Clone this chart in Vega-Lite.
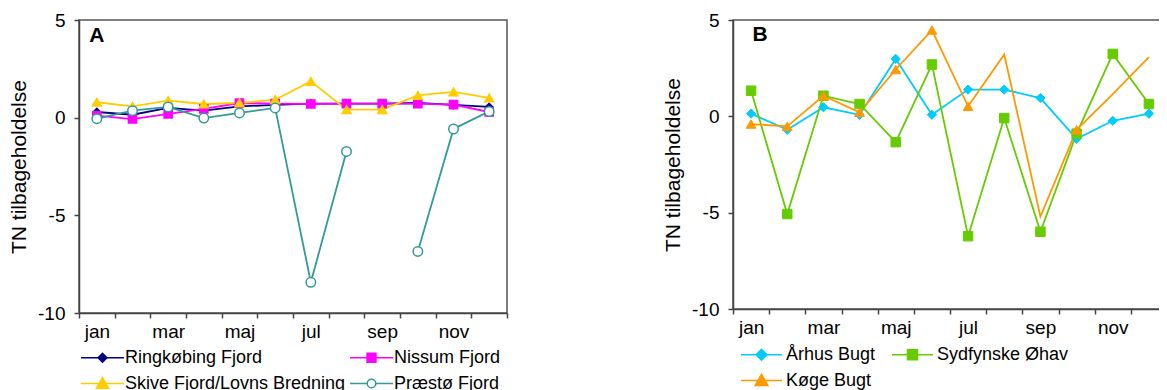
{
  "$schema": "https://vega.github.io/schema/vega-lite/v6.json",
  "padding": {"left": 7, "top": 10, "right": -10, "bottom": 0},
  "background": "white",
  "config": {
    "font": "Liberation Sans",
    "view": {"stroke": "#555", "strokeWidth": 1.5},
    "axis": {"domainColor": "#444", "domainWidth": 1.5, "tickColor": "#444", "tickWidth": 1.5, "tickSize": 5, "labelFontSize": 19, "labelColor": "#000", "titleFontSize": 21, "titleFontWeight": "normal", "titleColor": "#000", "grid": false, "labelFont": "Liberation Sans", "titleFont": "Liberation Sans"},
    "legend": {"labelFont": "Liberation Sans", "labelFontSize": 18, "labelColor": "#000", "padding": 0, "labelLimit": 400}
  },
  "datasets": {
    "a": [
      {"month": "jan", "site": "Ringkøbing Fjord", "value": 0.29},
      {"month": "feb", "site": "Ringkøbing Fjord", "value": 0.15},
      {"month": "mar", "site": "Ringkøbing Fjord", "value": 0.5},
      {"month": "apr", "site": "Ringkøbing Fjord", "value": 0.36},
      {"month": "maj", "site": "Ringkøbing Fjord", "value": 0.58},
      {"month": "jun", "site": "Ringkøbing Fjord", "value": 0.65},
      {"month": "jul", "site": "Ringkøbing Fjord", "value": 0.72},
      {"month": "aug", "site": "Ringkøbing Fjord", "value": 0.72},
      {"month": "sep", "site": "Ringkøbing Fjord", "value": 0.72},
      {"month": "okt", "site": "Ringkøbing Fjord", "value": 0.75},
      {"month": "nov", "site": "Ringkøbing Fjord", "value": 0.65},
      {"month": "dec", "site": "Ringkøbing Fjord", "value": 0.55},
      {"month": "jan", "site": "Nissum Fjord", "value": 0.1},
      {"month": "feb", "site": "Nissum Fjord", "value": -0.07},
      {"month": "mar", "site": "Nissum Fjord", "value": 0.19},
      {"month": "apr", "site": "Nissum Fjord", "value": 0.45},
      {"month": "maj", "site": "Nissum Fjord", "value": 0.75},
      {"month": "jun", "site": "Nissum Fjord", "value": 0.72},
      {"month": "jul", "site": "Nissum Fjord", "value": 0.7},
      {"month": "aug", "site": "Nissum Fjord", "value": 0.72},
      {"month": "sep", "site": "Nissum Fjord", "value": 0.72},
      {"month": "okt", "site": "Nissum Fjord", "value": 0.72},
      {"month": "nov", "site": "Nissum Fjord", "value": 0.67},
      {"month": "dec", "site": "Nissum Fjord", "value": 0.29},
      {"month": "jan", "site": "Skive Fjord/Lovns Bredning", "value": 0.79},
      {"month": "feb", "site": "Skive Fjord/Lovns Bredning", "value": 0.58},
      {"month": "mar", "site": "Skive Fjord/Lovns Bredning", "value": 0.87},
      {"month": "apr", "site": "Skive Fjord/Lovns Bredning", "value": 0.7},
      {"month": "maj", "site": "Skive Fjord/Lovns Bredning", "value": 0.75},
      {"month": "jun", "site": "Skive Fjord/Lovns Bredning", "value": 0.92},
      {"month": "jul", "site": "Skive Fjord/Lovns Bredning", "value": 1.86},
      {"month": "aug", "site": "Skive Fjord/Lovns Bredning", "value": 0.41},
      {"month": "sep", "site": "Skive Fjord/Lovns Bredning", "value": 0.41},
      {"month": "okt", "site": "Skive Fjord/Lovns Bredning", "value": 1.14},
      {"month": "nov", "site": "Skive Fjord/Lovns Bredning", "value": 1.32},
      {"month": "dec", "site": "Skive Fjord/Lovns Bredning", "value": 1.01},
      {"month": "jan", "site": "Præstø Fjord", "value": -0.05},
      {"month": "feb", "site": "Præstø Fjord", "value": 0.36},
      {"month": "mar", "site": "Præstø Fjord", "value": 0.55},
      {"month": "apr", "site": "Præstø Fjord", "value": -0.02},
      {"month": "maj", "site": "Præstø Fjord", "value": 0.24},
      {"month": "jun", "site": "Præstø Fjord", "value": 0.5},
      {"month": "jul", "site": "Præstø Fjord", "value": -8.43},
      {"month": "aug", "site": "Præstø Fjord", "value": -1.73},
      {"month": "sep", "site": "Præstø Fjord", "value": null},
      {"month": "okt", "site": "Præstø Fjord", "value": -6.85},
      {"month": "nov", "site": "Præstø Fjord", "value": -0.58},
      {"month": "dec", "site": "Præstø Fjord", "value": 0.32}
    ],
    "b": [
      {"month": "jan", "site": "Århus Bugt", "value": 0.14},
      {"month": "feb", "site": "Århus Bugt", "value": -0.7},
      {"month": "mar", "site": "Århus Bugt", "value": 0.47},
      {"month": "apr", "site": "Århus Bugt", "value": 0.08},
      {"month": "maj", "site": "Århus Bugt", "value": 2.98},
      {"month": "jun", "site": "Århus Bugt", "value": 0.08},
      {"month": "jul", "site": "Århus Bugt", "value": 1.39},
      {"month": "aug", "site": "Århus Bugt", "value": 1.39},
      {"month": "sep", "site": "Århus Bugt", "value": 0.95},
      {"month": "okt", "site": "Århus Bugt", "value": -1.17},
      {"month": "nov", "site": "Århus Bugt", "value": -0.23},
      {"month": "dec", "site": "Århus Bugt", "value": 0.14},
      {"month": "jan", "site": "Sydfynske Øhav", "value": 1.33},
      {"month": "feb", "site": "Sydfynske Øhav", "value": -5.07},
      {"month": "mar", "site": "Sydfynske Øhav", "value": 1.07},
      {"month": "apr", "site": "Sydfynske Øhav", "value": 0.64},
      {"month": "maj", "site": "Sydfynske Øhav", "value": -1.34},
      {"month": "jun", "site": "Sydfynske Øhav", "value": 2.69},
      {"month": "jul", "site": "Sydfynske Øhav", "value": -6.22},
      {"month": "aug", "site": "Sydfynske Øhav", "value": -0.09},
      {"month": "sep", "site": "Sydfynske Øhav", "value": -5.99},
      {"month": "okt", "site": "Sydfynske Øhav", "value": -0.9},
      {"month": "nov", "site": "Sydfynske Øhav", "value": 3.24},
      {"month": "dec", "site": "Sydfynske Øhav", "value": 0.64},
      {"month": "jan", "site": "Køge Bugt", "value": -0.4},
      {"month": "feb", "site": "Køge Bugt", "value": -0.52},
      {"month": "mar", "site": "Køge Bugt", "value": 1.07},
      {"month": "apr", "site": "Køge Bugt", "value": 0.21},
      {"month": "maj", "site": "Køge Bugt", "value": 2.43},
      {"month": "jun", "site": "Køge Bugt", "value": 4.48},
      {"month": "jul", "site": "Køge Bugt", "value": 0.52},
      {"month": "aug", "site": "Køge Bugt", "value": 3.21},
      {"month": "sep", "site": "Køge Bugt", "value": -5.2},
      {"month": "okt", "site": "Køge Bugt", "value": -0.7},
      {"month": "nov", "site": "Køge Bugt", "value": 1.15},
      {"month": "dec", "site": "Køge Bugt", "value": 3.07}
    ]
  },
  "spacing": 152,
  "resolve": {"scale": {"color": "independent", "stroke": "independent", "fill": "independent", "shape": "independent", "size": "independent", "x": "independent", "y": "independent"}, "legend": {"color": "independent", "shape": "independent", "fill": "independent", "stroke": "independent"}},
  "hconcat": [
    {
      "width": 428,
      "height": 293,
      "data": {"name": "a"},
      "resolve": {"scale": {"shape": "independent", "fill": "independent", "stroke": "independent", "size": "independent"}},
      "encoding": {
        "x": {"field": "month", "type": "ordinal", "scale": {"type": "band", "domain": ["jan","feb","mar","apr","maj","jun","jul","aug","sep","okt","nov","dec"], "paddingInner": 0, "paddingOuter": 0}, "axis": {"title": null, "tickBand": "extent", "labelAngle": 0, "labelPadding": 4, "labelExpr": "indexof(['jan','mar','maj','jul','sep','nov'], datum.value) >= 0 ? datum.value : ''"}},
        "y": {"field": "value", "type": "quantitative", "scale": {"domain": [-10, 5], "nice": false}, "axis": {"values": [-10, -5, 0, 5], "labelExpr": "'' + datum.value", "title": "TN tilbageholdelse", "labelPadding": 9, "titlePadding": 8}}
      },
      "layer": [
        {
          "mark": {"type": "line", "strokeWidth": 1.8, "invalid": "break-paths-filter-domains"},
          "encoding": {
            "color": {"field": "site", "type": "nominal", "legend": null,
              "scale": {"domain": ["Ringkøbing Fjord", "Nissum Fjord", "Skive Fjord/Lovns Bredning", "Præstø Fjord"], "range": ["#000080", "#ff00ff", "#ffcc00", "#339999"]}}
          }
        },
        {
          "mark": {"type": "point", "filled": true, "opacity": 1, "strokeWidth": 1.5},
          "encoding": {
            "shape": {"field": "site", "type": "nominal", "scale": {"domain": ["Ringkøbing Fjord", "Nissum Fjord", "Skive Fjord/Lovns Bredning", "Præstø Fjord"], "range": ["diamond", "square", "triangle-up", "circle"]}, "legend": null},
            "stroke": {"field": "site", "type": "nominal", "scale": {"domain": ["Ringkøbing Fjord", "Nissum Fjord", "Skive Fjord/Lovns Bredning", "Præstø Fjord"], "range": ["#000080", "#ff00ff", "#ffcc00", "#339999"]}, "legend": null},
            "fill": {"field": "site", "type": "nominal", "scale": {"domain": ["Ringkøbing Fjord", "Nissum Fjord", "Skive Fjord/Lovns Bredning", "Præstø Fjord"], "range": ["#000080", "#ff00ff", "#ffcc00", "#ffffff"]}, "legend": null},
            "size": {"field": "site", "type": "nominal", "scale": {"domain": ["Ringkøbing Fjord", "Nissum Fjord", "Skive Fjord/Lovns Bredning", "Præstø Fjord"], "range": [55, 90, 100, 60]}, "legend": null}
          }
        },
        {
          "transform": [{"filter": "false"}],
          "mark": {"type": "point", "filled": true, "opacity": 1, "strokeWidth": 1.5, "size": 870},
          "encoding": {
            "shape": {"field": "site", "type": "nominal",
              "scale": {"domain": ["Ringkøbing Fjord", "Nissum Fjord", "Skive Fjord/Lovns Bredning", "Præstø Fjord"], "range": ["M-1.46,0H1.46M-0.3,0L0,-0.3L0.3,0L0,0.3Z", "M-1.46,0H1.46M-0.3,-0.3H0.3V0.3H-0.3Z", "M-1.46,0H1.46M-0.41,0.32L0,-0.41L0.41,0.32Z", "M-1.46,0H-0.29M0.29,0H1.46M-0.29,0A0.29,0.29,0,1,1,0.29,0A0.29,0.29,0,1,1,-0.29,0Z"]},
              "legend": {"title": null, "orient": "none", "direction": "horizontal", "legendX": 8, "legendY": 322, "columns": 2, "columnPadding": 0, "rowPadding": 1, "symbolSize": 870, "labelOffset": 7, "symbolStrokeWidth": 1.5, "symbolOpacity": 1}},
            "stroke": {"field": "site", "type": "nominal", "scale": {"domain": ["Ringkøbing Fjord", "Nissum Fjord", "Skive Fjord/Lovns Bredning", "Præstø Fjord"], "range": ["#000080", "#ff00ff", "#ffcc00", "#339999"]}},
            "fill": {"field": "site", "type": "nominal", "scale": {"domain": ["Ringkøbing Fjord", "Nissum Fjord", "Skive Fjord/Lovns Bredning", "Præstø Fjord"], "range": ["#000080", "#ff00ff", "#ffcc00", "#ffffff"]}}
          }
        },
        {
          "transform": [{"filter": "datum.month === 'jan' && datum.site === 'Ringkøbing Fjord'"}],
          "mark": {"type": "text", "fontSize": 21, "fontWeight": "bold", "align": "center", "baseline": "middle", "fill": "#000"},
          "encoding": {"y": {"datum": 4.2}, "text": {"value": "A"}}
        }
      ]
    },
    {
      "width": 434,
      "height": 289,
      "data": {"name": "b"},
      "resolve": {"scale": {"shape": "independent", "fill": "independent", "stroke": "independent", "size": "independent"}},
      "encoding": {
        "x": {"field": "month", "type": "ordinal", "scale": {"type": "band", "domain": ["jan","feb","mar","apr","maj","jun","jul","aug","sep","okt","nov","dec"], "paddingInner": 0, "paddingOuter": 0}, "axis": {"title": null, "tickBand": "extent", "labelAngle": 0, "labelPadding": 4, "labelExpr": "indexof(['jan','mar','maj','jul','sep','nov'], datum.value) >= 0 ? datum.value : ''"}},
        "y": {"field": "value", "type": "quantitative", "scale": {"domain": [-10, 5], "nice": false}, "axis": {"values": [-10, -5, 0, 5], "labelExpr": "'' + datum.value", "title": "TN tilbageholdelse", "labelPadding": 9, "titlePadding": 8}}
      },
      "layer": [
        {
          "mark": {"type": "line", "strokeWidth": 1.8},
          "encoding": {
            "color": {"field": "site", "type": "nominal", "legend": null,
              "scale": {"domain": ["Århus Bugt", "Sydfynske Øhav", "Køge Bugt"], "range": ["#00ccff", "#66cc00", "#ff9900"]}}
          }
        },
        {
          "transform": [{"filter": "!(datum.site === 'Køge Bugt' && indexof(['aug','sep','nov','dec'], datum.month) >= 0)"}],
          "mark": {"type": "point", "filled": true, "opacity": 1, "strokeWidth": 1},
          "encoding": {
            "shape": {"field": "site", "type": "nominal", "scale": {"domain": ["Århus Bugt", "Sydfynske Øhav", "Køge Bugt"], "range": ["diamond", "square", "triangle-up"]}, "legend": null},
            "stroke": {"field": "site", "type": "nominal", "scale": {"domain": ["Århus Bugt", "Sydfynske Øhav", "Køge Bugt"], "range": ["#00ccff", "#66cc00", "#ff9900"]}, "legend": null},
            "fill": {"field": "site", "type": "nominal", "scale": {"domain": ["Århus Bugt", "Sydfynske Øhav", "Køge Bugt"], "range": ["#00ccff", "#66cc00", "#ff9900"]}, "legend": null},
            "size": {"field": "site", "type": "nominal", "scale": {"domain": ["Århus Bugt", "Sydfynske Øhav", "Køge Bugt"], "range": [85, 95, 120]}, "legend": null}
          }
        },
        {
          "transform": [{"filter": "false"}],
          "mark": {"type": "point", "filled": true, "opacity": 1, "strokeWidth": 1.5, "size": 870},
          "encoding": {
            "shape": {"field": "site", "type": "nominal",
              "scale": {"domain": ["Århus Bugt", "Sydfynske Øhav", "Køge Bugt"], "range": ["M-1.39,0H1.39M-0.37,0L0,-0.37L0.37,0L0,0.37Z", "M-1.39,0H1.39M-0.34,-0.34H0.34V0.34H-0.34Z", "M-1.39,0H1.39M-0.44,0.34L0,-0.42L0.44,0.34Z"]},
              "legend": {"title": null, "orient": "none", "direction": "horizontal", "legendX": 13, "legendY": 319, "columns": 2, "columnPadding": 13, "rowPadding": 1, "symbolSize": 870, "labelOffset": 9, "symbolStrokeWidth": 1.5, "symbolOpacity": 1}},
            "stroke": {"field": "site", "type": "nominal", "scale": {"domain": ["Århus Bugt", "Sydfynske Øhav", "Køge Bugt"], "range": ["#00ccff", "#66cc00", "#ff9900"]}},
            "fill": {"field": "site", "type": "nominal", "scale": {"domain": ["Århus Bugt", "Sydfynske Øhav", "Køge Bugt"], "range": ["#00ccff", "#66cc00", "#ff9900"]}}
          }
        },
        {
          "transform": [{"filter": "datum.month === 'jan' && datum.site === 'Århus Bugt'"}],
          "mark": {"type": "text", "fontSize": 21, "fontWeight": "bold", "align": "center", "baseline": "middle", "dx": 9, "fill": "#000"},
          "encoding": {"y": {"datum": 4.2}, "text": {"value": "B"}}
        }
      ]
    }
  ]
}
